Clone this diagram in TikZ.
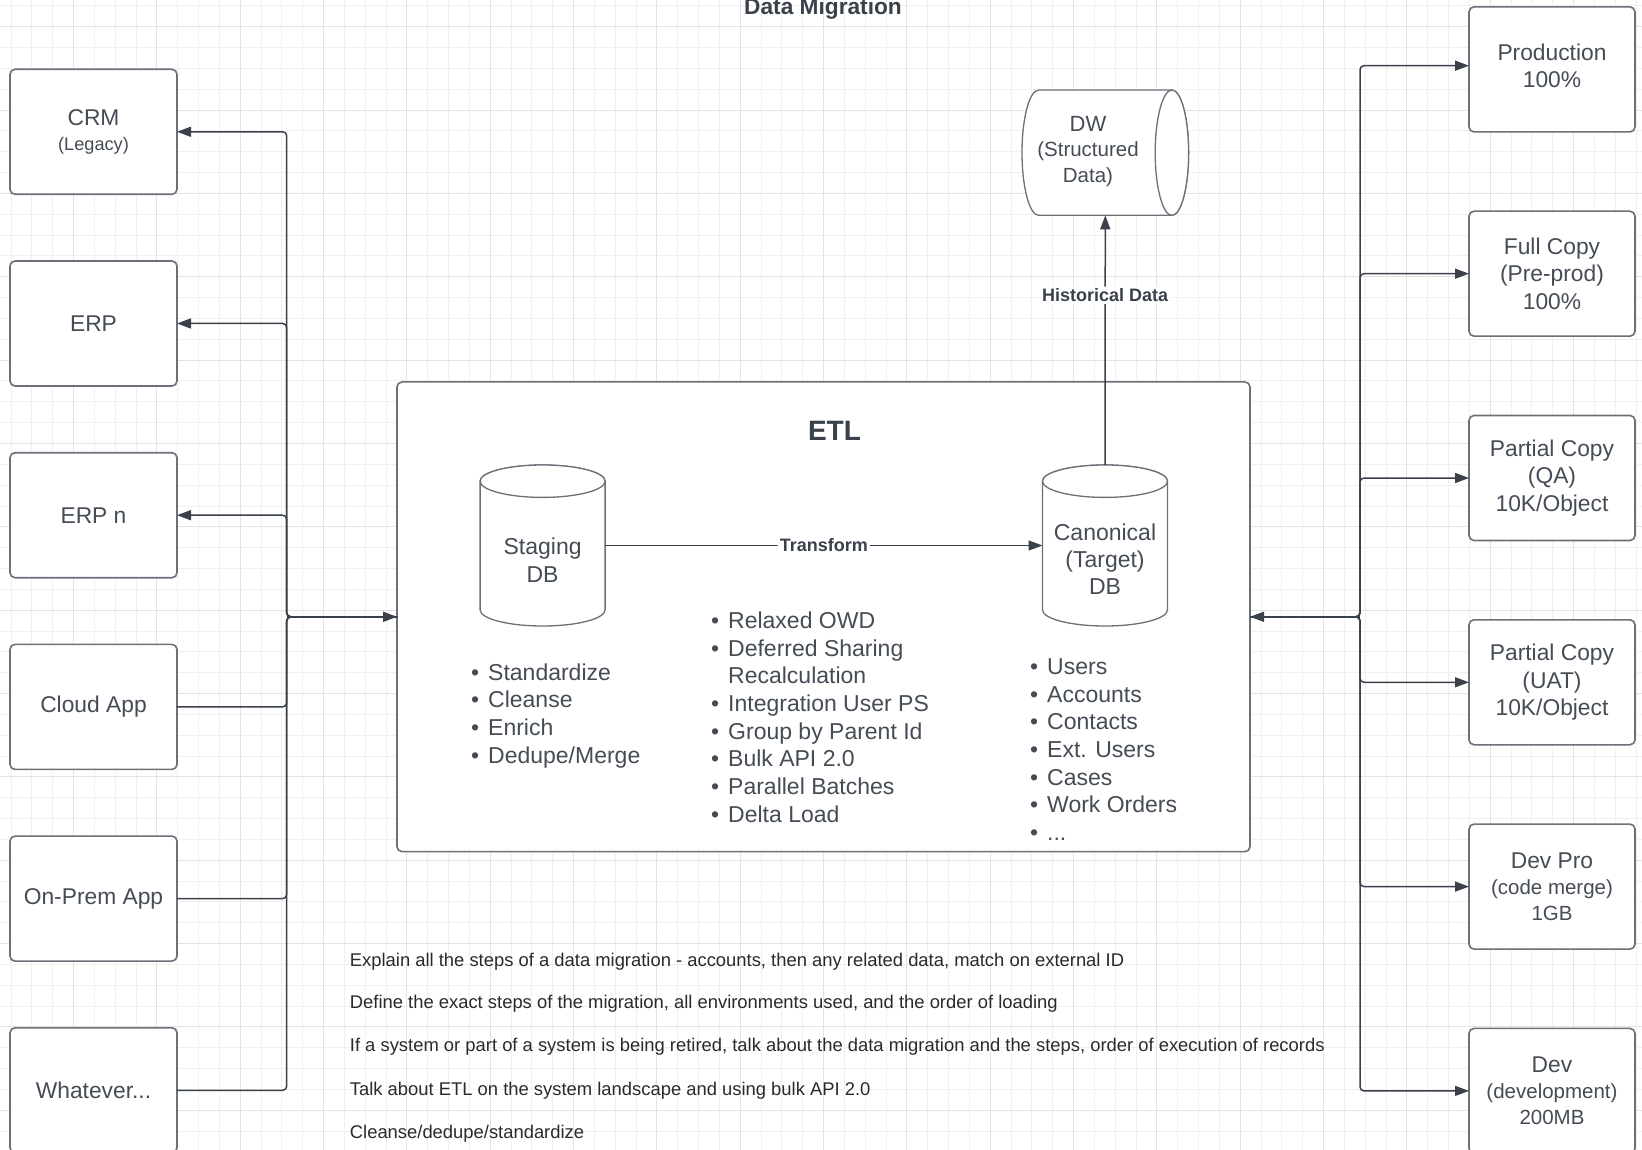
\documentclass[tikz,border=0pt]{standalone}
\usepackage{fontspec}
\setmainfont{Liberation Sans}
\usetikzlibrary{arrows.meta}
\definecolor{ink}{HTML}{3A414A}
\definecolor{boxline}{HTML}{6B7079}
\definecolor{txt}{HTML}{454C55}
\definecolor{gridminor}{HTML}{F0F0F0}
\definecolor{gridmajor}{HTML}{E3E3E3}
\definecolor{notetxt}{HTML}{2A2A2A}
\newcommand\fsz[2]{\fontsize{#1}{#2}\selectfont}
\newcommand\itm{\makebox[17pt][l]{\textbullet}}
\newcommand\cont{\hspace*{17pt}}
\begin{document}
\begin{tikzpicture}[x=1pt,y=-1pt,
  sysbox/.style={draw=boxline, line width=1.6pt, fill=white, rounded corners=5pt,
    minimum width=167pt, minimum height=125pt, inner sep=0pt, outer sep=0pt,
    align=center, text=txt, font=\fsz{22.8}{27.4}},
  envbox/.style={sysbox, minimum width=166pt},
  conn/.style={draw=ink, line width=1.5pt, rounded corners=4pt},
  tip/.style={-{Triangle[length=14pt,width=10pt]}},
  lbl/.style={fill=white, inner sep=2pt, text=ink, font=\fsz{18}{21}\bfseries},
  cyl/.style={draw=boxline, line width=1.3pt, fill=white},
  plain/.style={inner sep=0pt, outer sep=0pt, align=center, text=txt},
  list/.style={anchor=base west, align=left, inner sep=0pt, text=txt, font=\fsz{23}{27.7}},
  note/.style={anchor=base west, inner sep=0pt, text=notetxt, font=\fsz{18.4}{22}}
]
% canvas and grid
\clip (0,0) rectangle (1642,1150);
\fill[white] (0,0) rectangle (1642,1150);
\foreach \k in {0,...,78} \draw[gridminor, line width=1pt] ({11+20.8333*\k},0) -- ({11+20.8333*\k},1150);
\foreach \k in {0,...,55} \draw[gridminor, line width=1pt] (0,{6+20.8333*\k}) -- (1642,{6+20.8333*\k});
\foreach \k in {0,...,20} \draw[gridmajor, line width=1pt] ({-10+83.3333*\k},0) -- ({-10+83.3333*\k},1150);
\foreach \k in {0,...,13} \draw[gridmajor, line width=1pt] (0,{26.7+83.3333*\k}) -- (1642,{26.7+83.3333*\k});

\node[anchor=base, inner sep=0pt, text=ink, font=\fsz{22.7}{27}\bfseries] (title) at (823,14.5) {Data Migration};

% source systems
\node[sysbox] (crm) at (93.5,131.8) {CRM\\[-2.4pt]{\fsz{18.2}{22}(Legacy)}};
\node[sysbox] (erp) at (93.5,323.5) {ERP};
\node[sysbox] (erpn) at (93.5,515.2) {ERP n};
\node[sysbox] (cloud) at (93.5,706.9) {Cloud App};
\node[sysbox] (onprem) at (93.5,898.6) {On-Prem App};
\node[sysbox] (other) at (93.5,1090.3) {Whatever...};

% target environments
\node[envbox] (prod) at (1552,69.4) {};
\node[plain, font=\fsz{22.8}{27.4}] (prodtxt) at (1552,65.7) {Production\\100\%};
\node[envbox] (full) at (1552,273.7) {Full Copy\\(Pre-prod)\\100\%};
\node[envbox] (qa) at (1552,478) {Partial Copy\\(QA)\\10K/Object};
\node[envbox] (uat) at (1552,682.3) {Partial Copy\\(UAT)\\10K/Object};
\node[envbox] (devpro) at (1552,886.6) {Dev Pro\\[-1.5pt]{\fsz{20.5}{25}(code merge)}\\[-1.5pt]{\fsz{20.5}{25}1GB}};
\node[envbox] (dev) at (1552,1090.9) {Dev\\[-1.5pt]{\fsz{20.5}{25}(development)}\\[-1.5pt]{\fsz{20.5}{25}200MB}};

% ETL container
\node[draw=boxline, line width=1.6pt, fill=white, rounded corners=5pt, minimum width=853pt,
  minimum height=469.7pt, inner sep=0pt, outer sep=0pt] (etl) at (823.5,616.8) {};
\node[anchor=base, inner sep=0pt, text=ink, font=\fsz{28}{32}\bfseries] (etltitle) at (834.5,440) {ETL};

% databases
\node[minimum width=125pt, minimum height=161pt, inner sep=0pt, outer sep=0pt] (stg) at (542.6,545.5) {};
\node[minimum width=125pt, minimum height=161pt, inner sep=0pt, outer sep=0pt] (can) at (1105,545.5) {};
\foreach \c in {stg,can} {
  \draw[cyl] ([yshift=-16.2pt]\c.north west) -- ([yshift=16.2pt]\c.south west)
    arc[start angle=180, end angle=360, x radius=62.5pt, y radius=16.2pt]
    -- ([yshift=-16.2pt]\c.north east)
    arc[start angle=0, end angle=180, x radius=62.5pt, y radius=16.2pt] -- cycle;
  \draw[cyl] ([yshift=-16.2pt]\c.north) ellipse[x radius=62.5pt, y radius=16.2pt];
}
\node[plain, font=\fsz{23}{27.3}] (stgtxt) at (542.6,560.3) {Staging\\DB};
\node[plain, font=\fsz{23}{27.3}] (cantxt) at (1105,559) {Canonical\\(Target)\\DB};

\node[minimum width=166.6pt, minimum height=125.3pt, inner sep=0pt, outer sep=0pt] (dw) at (1105.3,152.7) {};
\draw[cyl] ([xshift=16.7pt]dw.north west) -- ([xshift=-16.7pt]dw.north east)
  arc[start angle=90, end angle=-90, x radius=16.7pt, y radius=62.65pt]
  -- ([xshift=16.7pt]dw.south west)
  arc[start angle=270, end angle=90, x radius=16.7pt, y radius=62.65pt] -- cycle;
\draw[cyl] ([xshift=-16.7pt]dw.east) ellipse[x radius=16.7pt, y radius=62.65pt];
\node[plain, font=\fsz{20.5}{25.5}] (dwtxt) at (1088,151.5) {{\fsz{22}{25.5}DW}\\(Structured\\Data)};

% bullet lists (anchored at the baseline of their last line)
\node[list] (stglist) at (471,763.1) {\itm Standardize\\\itm Cleanse\\\itm Enrich\\\itm Dedupe/Merge};
\node[list] (loadlist) at (711,822.2) {\itm Relaxed OWD\\\itm Deferred Sharing\\\cont Recalculation\\\itm Integration User PS\\\itm Group by Parent Id\\\itm Bulk API 2.0\\\itm Parallel Batches\\\itm Delta Load};
\node[list] (objlist) at (1030,840.5) {\itm Users\\\itm Accounts\\\itm Contacts\\\itm Ext. Users\\\itm Cases\\\itm Work Orders\\\itm ...};

% connectors inside and above the ETL block
\draw[conn,tip] (stg.east) -- (can.west) node[midway,lbl] {Transform};
\draw[conn,tip] (can.north) -- node[pos=0.68,lbl] {Historical Data} (dw.south);

% left bus
\coordinate (lbus) at (286.7,616.8);
\foreach \b in {crm,erp,erpn} \draw[conn,tip] (etl.west) -- (lbus) |- (\b.east);
\foreach \b in {cloud,onprem,other} \draw[conn] (\b.east) -| (lbus) -- (etl.west);
\draw[conn,tip] (lbus) -- (etl.west);

% right bus
\coordinate (rbus) at (1360,616.8);
\draw[conn,tip] (rbus) -- (etl.east);
\draw[conn,tip] (etl.east) -- (rbus) |- ([yshift=3.7pt]prod.west);
\foreach \b in {full,qa,uat,devpro,dev} \draw[conn,tip] (etl.east) -- (rbus) |- (\b.west);

% notes
\node[note] (n1) at (349.7,966) {Explain all the steps of a data migration - accounts, then any related data, match on external ID};
\node[note] (n2) at (349.7,1008.3) {Define the exact steps of the migration, all environments used, and the order of loading};
\node[note] (n3) at (349.7,1051.7) {If a system or part of a system is being retired, talk about the data migration and the steps, order of execution of records};
\node[note] (n4) at (349.7,1095) {Talk about ETL on the system landscape and using bulk API 2.0};
\node[note] (n5) at (349.7,1138) {Cleanse/dedupe/standardize};
\end{tikzpicture}
\end{document}
